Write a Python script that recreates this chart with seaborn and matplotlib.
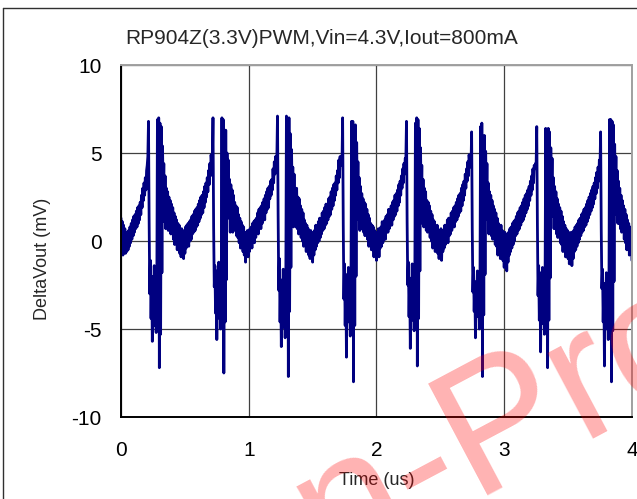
import matplotlib
matplotlib.use("Agg")
import matplotlib.pyplot as plt
from matplotlib.lines import Line2D
import seaborn as sns
import pandas as pd
import numpy as np

# DeltaVout samples (mV), 0.005 us apart; one list per switching cycle
sample_step_us = 0.005
cycle_start_us = [0.0, 0.21, 0.715, 1.22, 1.73, 2.23, 2.74, 3.25, 3.75]

lead_in = [1.3, -0.6, 1.1, -0.8, 0.9, -0.4, 0.7, -0.7, 0.4, -0.6,
           0.5, -0.5, 0.6, -0.3, 0.8, -0.1, 1.0, 0.1, 1.2, 0.3,
           1.4, 0.5, 1.5, 0.7, 1.7, 0.8, 1.9, 1.0, 2.0, 1.2,
           2.2, 1.5, 2.6, 1.9, 3.0, 2.3, 3.3, 2.6, 3.6, 2.9,
           4.0, 4.3]

cycle1 = [4.8, 6.8, 1.2, -3.0, -1.1, -4.4, -2.0, -5.7, -2.6, -3.9,
          -1.4, -4.8, -2.3, -5.2, -3.1, 6.9, -4.5, 7.0, -7.2, 6.7,
          -5.3, 6.5, -1.8, 5.4, 2.6, 4.4, 1.1, 3.7, 0.7, 3.0,
          0.9, 2.8, 0.6, 2.5, 0.8, 2.3, 0.4, 2.1, 0.5, 1.9,
          0.1, 1.6, -0.2, 1.4, 0.0, 1.2, -0.5, 1.0, -0.3, 0.9,
          -0.7, 0.6, -0.9, 0.7, -0.6, 0.5, -1.0, 0.6, -0.7, 0.8,
          -0.4, 0.9, -0.2, 1.0, -0.3, 1.1, 0.0, 1.2, 0.1, 1.4,
          0.4, 1.5, 0.5, 1.7, 0.6, 1.8, 0.8, 1.9, 0.9, 2.1,
          1.1, 2.3, 1.3, 2.5, 1.5, 2.6, 1.6, 2.8, 1.9, 3.1,
          2.2, 3.3, 2.5, 3.6, 2.8, 4.0, 3.2, 4.4, 3.7, 4.9,
          4.4]

cycle2 = [4.5, 7.0, 0.8, -2.6, -1.4, -4.1, -1.7, -5.6, -2.9, -3.5,
          -1.2, -4.4, -2.6, -5.0, -2.4, 7.0, -3.8, 6.9, -7.5, 6.2,
          -4.6, 6.3, -2.2, 5.0, 2.0, 4.6, 1.3, 3.5, 0.5, 3.2,
          1.0, 2.9, 0.5, 2.6, 0.9, 2.2, 0.6, 2.0, 0.3, 1.9,
          0.2, 1.5, -0.1, 1.3, -0.4, 1.1, -0.2, 0.9, -0.6, 0.8,
          -0.8, 0.5, -1.2, 0.4, -0.7, 0.6, -0.9, 0.3, -0.6, 0.7,
          -0.3, 0.8, -0.4, 1.0, 0.0, 1.1, -0.1, 1.2, 0.2, 1.3,
          0.6, 1.6, 0.4, 1.8, 0.8, 1.9, 0.7, 2.0, 1.0, 2.2,
          1.3, 2.4, 1.2, 2.6, 1.6, 2.8, 1.8, 3.0, 1.9, 3.1,
          2.4, 3.4, 2.6, 3.5, 2.9, 4.1, 3.3, 4.5, 3.8, 4.8,
          4.5]

cycle3 = [4.7, 7.1, 1.5, -2.8, -1.0, -4.6, -2.2, -6.0, -2.5, -4.1,
          -1.6, -4.9, -2.0, -5.5, -2.8, 7.1, -4.9, 6.8, -7.7, 7.0,
          -4.0, 6.1, -1.5, 5.2, 2.6, 4.2, 0.8, 3.8, 0.9, 2.9,
          0.8, 3.0, 0.7, 2.5, 0.4, 2.4, 0.6, 2.0, 0.2, 1.8,
          0.0, 1.6, -0.3, 1.2, -0.1, 1.0, -0.6, 0.9, -0.4, 0.7,
          -0.8, 0.5, -1.0, 0.6, -0.7, 0.4, -1.2, 0.5, -0.8, 0.6,
          -0.5, 0.9, -0.3, 0.8, -0.1, 1.1, 0.0, 1.3, 0.2, 1.2,
          0.4, 1.6, 0.6, 1.7, 0.7, 1.9, 0.9, 2.1, 1.0, 2.0,
          1.2, 2.4, 1.4, 2.5, 1.5, 2.8, 1.8, 3.0, 2.0, 3.2,
          2.3, 3.3, 2.6, 3.7, 2.9, 4.0, 3.3, 4.6, 3.6, 4.8,
          4.3, 4.6]

cycle4 = [4.4, 7.0, 0.9, -3.3, -1.3, -4.8, -1.9, -6.6, -2.7, -3.8,
          -1.5, -4.6, -2.4, -5.4, -3.3, 6.8, -4.4, 6.8, -8.0, 6.5,
          -4.8, 6.6, -2.0, 5.6, 2.2, 4.5, 1.2, 3.6, 0.6, 3.1,
          0.7, 2.7, 0.8, 2.4, 0.5, 2.2, 0.3, 2.1, 0.4, 1.8,
          0.1, 1.5, -0.3, 1.3, -0.2, 1.0, -0.5, 0.9, -0.5, 0.8,
          -0.9, 0.6, -0.8, 0.5, -1.1, 0.5, -0.7, 0.7, -0.9, 0.6,
          -0.4, 0.8, -0.3, 1.1, -0.1, 1.0, 0.1, 1.2, 0.1, 1.4,
          0.5, 1.5, 0.5, 1.8, 0.7, 1.8, 0.9, 2.0, 0.9, 2.2,
          1.2, 2.3, 1.4, 2.6, 1.5, 2.7, 1.7, 2.9, 2.0, 3.2,
          2.2, 3.4, 2.6, 3.7, 3.0, 4.1, 3.3, 4.4, 3.8, 4.7]

cycle5 = [4.6, 6.8, 1.1, -2.5, -1.2, -4.3, -2.1, -6.1, -2.4, -3.7,
          -1.3, -4.5, -2.5, -5.1, -2.9, 6.7, -4.1, 7.0, -7.1, 6.9,
          -4.4, 6.4, -1.7, 5.3, 2.3, 4.3, 1.0, 3.5, 0.8, 3.0,
          0.9, 2.8, 0.6, 2.3, 0.5, 2.2, 0.7, 2.0, 0.2, 1.7,
          0.0, 1.5, -0.4, 1.2, -0.3, 1.1, -0.6, 0.8, -0.4, 0.9,
          -0.7, 0.6, -1.0, 0.4, -0.8, 0.7, -1.1, 0.5, -0.6, 0.6,
          -0.4, 0.9, -0.2, 0.9, 0.0, 1.2, -0.1, 1.3, 0.3, 1.3,
          0.4, 1.6, 0.6, 1.7, 0.8, 1.9, 0.8, 2.0, 1.1, 2.2,
          1.2, 2.4, 1.4, 2.6, 1.6, 2.7, 1.7, 3.0, 2.0, 3.2,
          2.3, 3.4, 2.6, 3.8, 3.0, 4.1, 3.4, 4.5, 3.7, 4.9,
          4.5, 4.4]

cycle6 = [4.2, 6.2, 0.7, -2.9, -1.5, -4.0, -2.3, -5.5, -2.8, -3.6,
          -1.7, -4.3, -2.2, -5.0, -3.2, 6.5, -4.6, 6.7, -7.7, 5.6,
          -4.2, 6.0, -1.9, 5.1, 2.1, 4.4, 1.2, 3.3, 0.4, 2.8,
          0.6, 2.6, 0.3, 2.3, 0.1, 2.0, 0.4, 1.8, -0.2, 1.6,
          -0.3, 1.3, -0.8, 1.0, -0.5, 0.8, -1.0, 0.9, -0.7, 0.6,
          -1.1, 0.4, -1.5, 0.5, -1.0, 0.3, -1.7, 0.4, -1.2, 0.5,
          -0.8, 0.7, -0.6, 0.8, -0.4, 1.0, -0.2, 1.1, 0.0, 1.2,
          0.3, 1.4, 0.4, 1.6, 0.6, 1.7, 0.7, 1.9, 0.9, 2.0,
          1.1, 2.2, 1.2, 2.4, 1.4, 2.6, 1.6, 2.7, 1.8, 2.9,
          2.0, 3.1, 2.3, 3.4, 2.6, 3.7, 2.9, 4.1, 3.3, 4.3,
          4.1, 4.4]

cycle7 = [4.3, 6.5, 1.0, -3.1, -1.4, -4.5, -1.8, -6.3, -2.6, -4.0,
          -1.5, -4.7, -2.1, -5.3, -2.7, 6.4, -4.3, 6.3, -7.2, 6.4,
          -4.5, 6.2, -2.1, 5.3, 2.5, 4.7, 1.4, 3.6, 0.7, 3.1,
          0.7, 2.8, 0.4, 2.4, 0.2, 2.1, 0.3, 1.9, -0.1, 1.7,
          -0.2, 1.4, -0.6, 1.1, -0.4, 0.9, -0.9, 0.7, -0.6, 0.6,
          -1.0, 0.5, -1.3, 0.4, -0.9, 0.5, -1.4, 0.3, -1.0, 0.6,
          -0.6, 0.8, -0.5, 0.9, -0.3, 1.0, -0.1, 1.2, 0.1, 1.3,
          0.3, 1.5, 0.5, 1.6, 0.6, 1.8, 0.8, 1.9, 0.9, 2.1,
          1.1, 2.3, 1.3, 2.5, 1.5, 2.7, 1.7, 2.9, 1.9, 3.1,
          2.1, 3.3, 2.4, 3.6, 2.7, 3.9, 3.0, 4.2, 3.4, 4.6]

cycle8 = [4.1, 6.2, 0.6, -2.7, -1.6, -4.6, -2.4, -7.1, -3.0, -4.2,
          -1.8, -5.0, -2.6, -5.6, -3.4, 6.9, -4.8, 6.9, -8.0, 6.8,
          -5.1, 6.6, -2.3, 5.5, 2.7, 4.8, 1.5, 4.0, 1.0, 3.4,
          1.0, 3.0, 0.7, 2.6, 0.5, 2.3, 0.6, 2.0, 0.1, 1.8,
          -0.1, 1.5, -0.5, 1.2, -0.3, 1.0, -0.8, 0.8, -0.7, 0.5,
          -1.1]

segments = [lead_in, cycle1, cycle2, cycle3, cycle4, cycle5, cycle6, cycle7, cycle8]

x_ticks = [0, 1, 2, 3, 4]
y_ticks = [-10, -5, 0, 5, 10]
title = "RP904Z(3.3V)PWM,Vin=4.3V,Iout=800mA"

times, values = [], []
for t0, seg in zip(cycle_start_us, segments):
    times.extend(t0 + sample_step_us * np.arange(len(seg)))
    values.extend(seg)
df = pd.DataFrame({"Time (us)": times, "DeltaVout (mV)": values})

sns.set_style("white")
plt.rcParams["font.family"] = ["Liberation Sans", "DejaVu Sans"]
plt.rcParams["axes.unicode_minus"] = False

fig, ax = plt.subplots(figsize=(6.37, 4.99), dpi=100)
fig.subplots_adjust(left=0.19, right=0.992, top=0.8697, bottom=0.1643)

sns.lineplot(data=df, x="Time (us)", y="DeltaVout (mV)", ax=ax,
             estimator=None, sort=False, color="#000080", linewidth=2.0)

ax.set_xlim(0, 4)
ax.set_ylim(-10, 10)
ax.set_xticks(x_ticks)
ax.set_yticks(y_ticks)
ax.grid(True, color="#404040", linewidth=0.9)
ax.set_axisbelow(True)
ax.tick_params(length=0, labelsize=15, colors="black")
ax.tick_params(axis="x", pad=17)
ax.tick_params(axis="y", pad=14)

for side in ["left", "bottom"]:
    ax.spines[side].set_color("black")
    ax.spines[side].set_linewidth(1.4)
for side in ["top", "right"]:
    ax.spines[side].set_color("#a0a0a0")
    ax.spines[side].set_linewidth(1.4)

ax.set_xlabel("Time (us)", fontsize=13)
ax.set_ylabel("DeltaVout (mV)", fontsize=13)
ax.xaxis.set_label_coords(0.5, -0.155)
ax.yaxis.set_label_coords(-0.137, 0.45)
ax.set_title(title, fontsize=15, x=0.393, y=1.06, pad=0)

# chart frame
fig.add_artist(Line2D([0.0047, 0.0047], [0, 0.984], color="#303030", lw=1))
fig.add_artist(Line2D([0.0047, 1], [0.984, 0.984], color="#303030", lw=1))

# watermark
fig.text(0.518, -0.146, "n-Pro", fontsize=132, color="red", alpha=0.3,
         rotation=28, rotation_mode="anchor", ha="left", va="baseline",
         zorder=10)

fig.savefig("out.png", dpi=100)
